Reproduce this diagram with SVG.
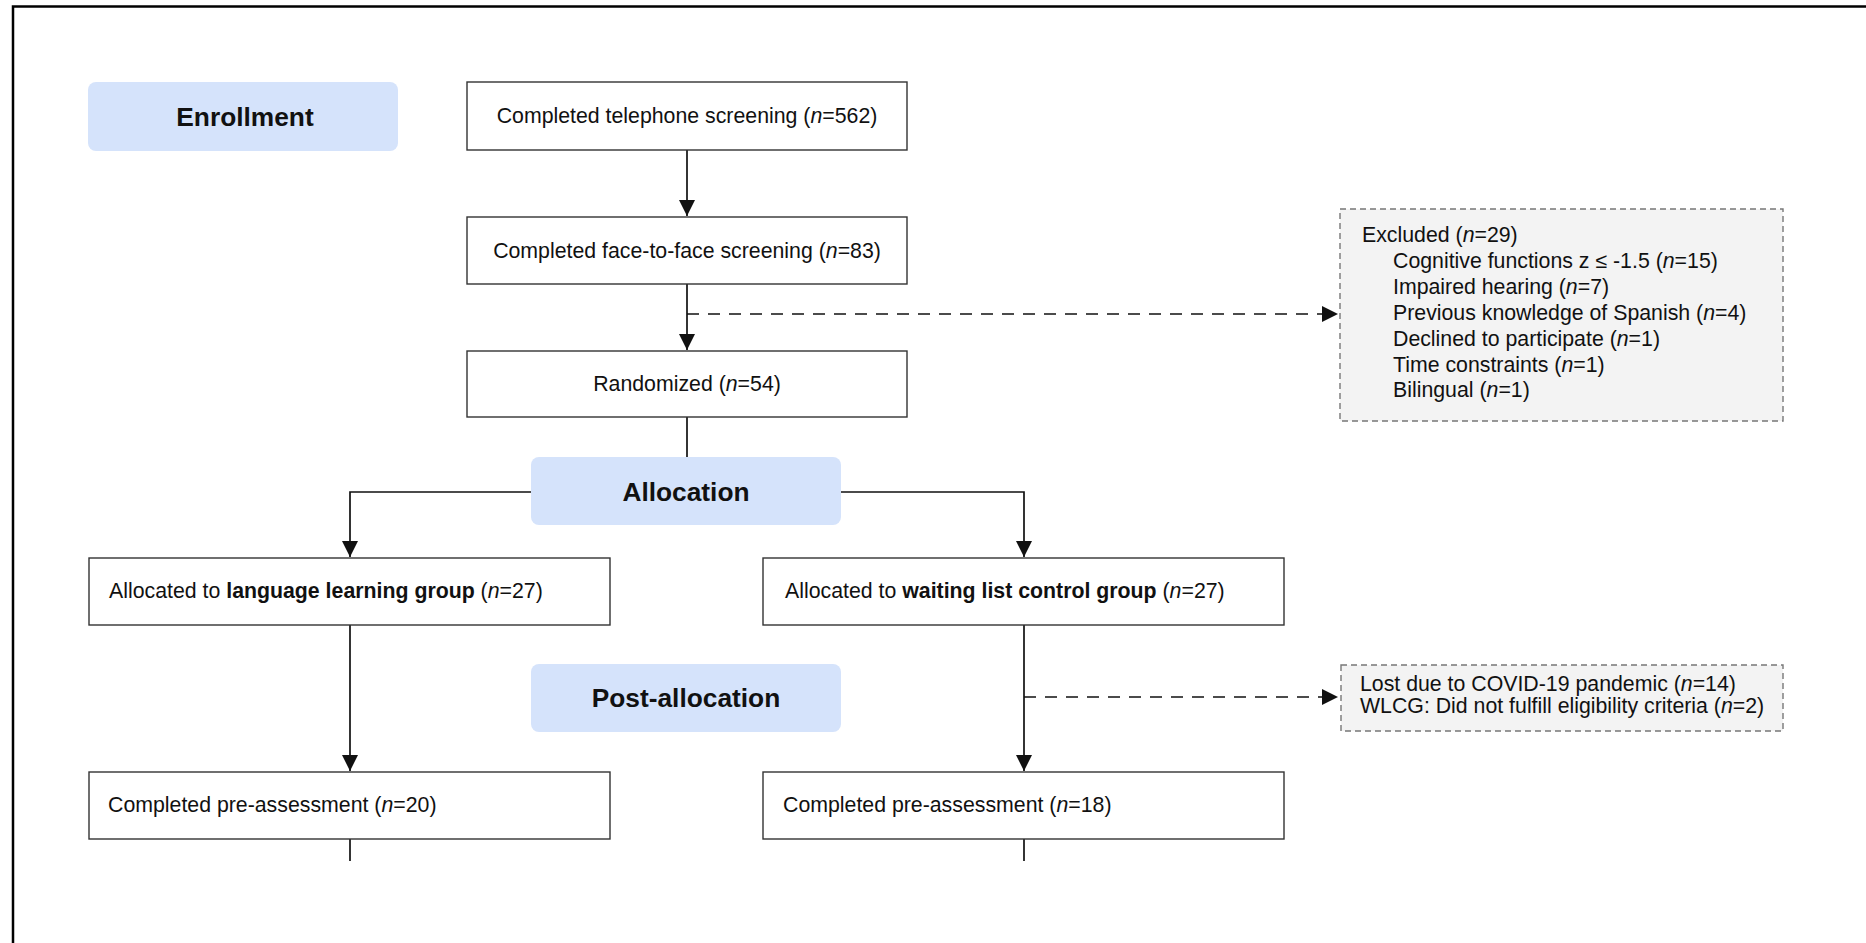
<svg xmlns="http://www.w3.org/2000/svg" width="1866" height="943" viewBox="0 0 1866 943">
  <style>
    text { font-family: "Liberation Sans", Arial, sans-serif; fill: #111; }
    .t { font-size: 21.3px; }
    .stage { font-size: 26.3px; font-weight: bold; }
    .box { fill: #fff; stroke: #333; stroke-width: 1.4; }
    .phase { fill: #d5e3fb; }
    .note { fill: #f3f3f3; stroke: #777; stroke-width: 1.4; stroke-dasharray: 6 4; }
    .line { fill: none; stroke: #111; stroke-width: 1.7; }
    .dash { stroke-dasharray: 12 9; }
    .i { font-style: italic; }
    .b { font-weight: bold; }
  </style>
  <defs>
    <marker id="arrow" markerUnits="userSpaceOnUse" markerWidth="18" markerHeight="18" refX="16" refY="8" orient="auto">
      <path d="M0,0 L16,8 L0,16 Z" fill="#111"/>
    </marker>
  </defs>

  <rect width="1866" height="943" fill="#fff"/>
  <!-- page frame -->
  <path d="M13,943 V6.5 H1866" fill="none" stroke="#000" stroke-width="2.5"/>

  <!-- connectors -->
  <g id="connectors">
    <path class="line" d="M687,150 V216" marker-end="url(#arrow)"/>
    <path class="line" d="M687,284 V350" marker-end="url(#arrow)"/>
    <path class="line dash" d="M687,314 H1338" marker-end="url(#arrow)"/>
    <path class="line" d="M687,417 V457"/>
    <path class="line" d="M531,492 H350 V557" marker-end="url(#arrow)"/>
    <path class="line" d="M841,492 H1024 V557" marker-end="url(#arrow)"/>
    <path class="line" d="M350,625 V771" marker-end="url(#arrow)"/>
    <path class="line" d="M1024,625 V771" marker-end="url(#arrow)"/>
    <path class="line dash" d="M1024,697 H1338" marker-end="url(#arrow)"/>
    <path class="line" d="M350,839 V861"/>
    <path class="line" d="M1024,839 V861"/>
  </g>

  <g id="phase-enrollment">
    <rect class="phase" x="88" y="82" width="310" height="69" rx="8"/>
    <text class="stage" x="245" y="126" text-anchor="middle">Enrollment</text>
  </g>

  <g id="phase-allocation">
    <rect class="phase" x="531" y="457" width="310" height="68" rx="8"/>
    <text class="stage" x="686" y="501" text-anchor="middle">Allocation</text>
  </g>

  <g id="phase-post-allocation">
    <rect class="phase" x="531" y="664" width="310" height="68" rx="8"/>
    <text class="stage" x="686" y="707" text-anchor="middle">Post-allocation</text>
  </g>

  <g id="telephone-screening">
    <rect class="box" x="467" y="82" width="440" height="68"/>
    <text class="t" x="687" y="123" text-anchor="middle">Completed telephone screening (<tspan class="i">n</tspan>=562)</text>
  </g>

  <g id="face-to-face-screening">
    <rect class="box" x="467" y="217" width="440" height="67"/>
    <text class="t" x="687" y="258" text-anchor="middle">Completed face-to-face screening (<tspan class="i">n</tspan>=83)</text>
  </g>

  <g id="randomized">
    <rect class="box" x="467" y="351" width="440" height="66"/>
    <text class="t" x="687" y="391" text-anchor="middle">Randomized (<tspan class="i">n</tspan>=54)</text>
  </g>

  <g id="excluded">
    <rect class="note" x="1340" y="209" width="443" height="212"/>
    <text class="t" x="1362" y="242">Excluded (<tspan class="i">n</tspan>=29)</text>
    <text class="t" x="1393" y="268">Cognitive functions z ≤ -1.5 (<tspan class="i">n</tspan>=15)</text>
    <text class="t" x="1393" y="294">Impaired hearing (<tspan class="i">n</tspan>=7)</text>
    <text class="t" x="1393" y="320">Previous knowledge of Spanish (<tspan class="i">n</tspan>=4)</text>
    <text class="t" x="1393" y="346">Declined to participate (<tspan class="i">n</tspan>=1)</text>
    <text class="t" x="1393" y="372">Time constraints (<tspan class="i">n</tspan>=1)</text>
    <text class="t" x="1393" y="397">Bilingual (<tspan class="i">n</tspan>=1)</text>
  </g>

  <g id="language-learning-group">
    <rect class="box" x="89" y="558" width="521" height="67"/>
    <text class="t" x="109" y="598">Allocated to <tspan class="b">language learning group</tspan> (<tspan class="i">n</tspan>=27)</text>
  </g>

  <g id="waiting-list-control-group">
    <rect class="box" x="763" y="558" width="521" height="67"/>
    <text class="t" x="785" y="598">Allocated to <tspan class="b">waiting list control group</tspan> (<tspan class="i">n</tspan>=27)</text>
  </g>

  <g id="lost">
    <rect class="note" x="1341" y="665" width="442" height="66"/>
    <text class="t" x="1360" y="691">Lost due to COVID-19 pandemic (<tspan class="i">n</tspan>=14)</text>
    <text class="t" x="1360" y="713">WLCG: Did not fulfill eligibility criteria (<tspan class="i">n</tspan>=2)</text>
  </g>

  <g id="pre-assessment-llg">
    <rect class="box" x="89" y="772" width="521" height="67"/>
    <text class="t" x="108" y="812">Completed pre-assessment (<tspan class="i">n</tspan>=20)</text>
  </g>

  <g id="pre-assessment-wlcg">
    <rect class="box" x="763" y="772" width="521" height="67"/>
    <text class="t" x="783" y="812">Completed pre-assessment (<tspan class="i">n</tspan>=18)</text>
  </g>
</svg>
